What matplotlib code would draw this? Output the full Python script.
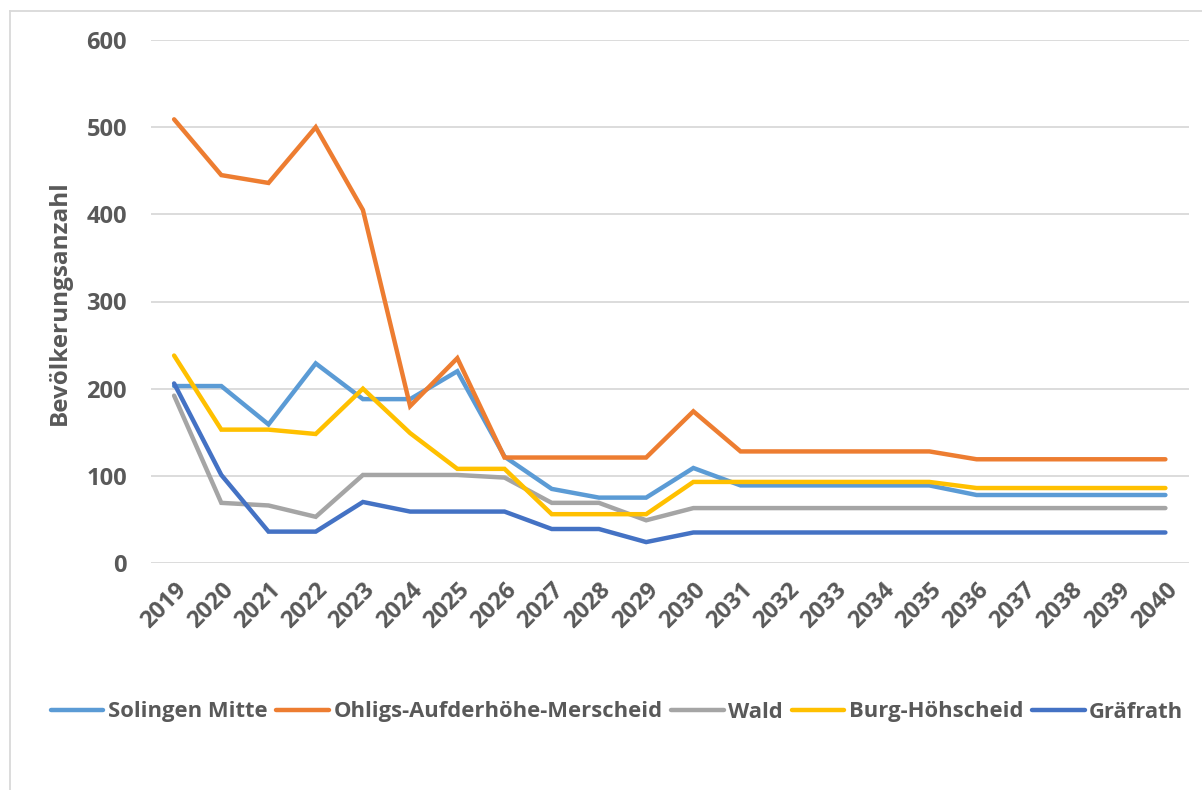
import matplotlib.pyplot as plt
from matplotlib.lines import Line2D

plt.rcParams['font.family'] = ['Open Sans', 'DejaVu Sans']

years = [str(y) for y in range(2019, 2041)]

solingen_mitte = [203, 203, 159, 229, 188, 188, 220, 122, 85, 75, 75, 109,
                  89, 89, 89, 89, 89, 78, 78, 78, 78, 78]
ohligs = [509, 445, 436, 500, 405, 180, 235, 121, 121, 121, 121, 174,
          128, 128, 128, 128, 128, 119, 119, 119, 119, 119]
wald = [192, 69, 66, 53, 101, 101, 101, 98, 69, 69, 49, 63,
        63, 63, 63, 63, 63, 63, 63, 63, 63, 63]
burg = [238, 153, 153, 148, 200, 149, 108, 108, 56, 56, 56, 93,
        93, 93, 93, 93, 93, 86, 86, 86, 86, 86]
graefrath = [206, 101, 36, 36, 70, 59, 59, 59, 39, 39, 24, 35,
             35, 35, 35, 35, 35, 35, 35, 35, 35, 35]

series = [
    ('Solingen Mitte', solingen_mitte, '#5B9BD5'),
    ('Ohligs-Aufderhöhe-Merscheid', ohligs, '#ED7D31'),
    ('Wald', wald, '#A5A5A5'),
    ('Burg-Höhscheid', burg, '#FFC000'),
    ('Gräfrath', graefrath, '#4472C4'),
]

W, H = 1202, 790
fig = plt.figure(figsize=(W / 100, H / 100), dpi=100)
ax = fig.add_axes([150.5 / W, 1 - 563 / H, (1189 - 150.5) / W, (563 - 40) / H])

x = range(len(years))
for name, vals, col in series:
    ax.plot(x, vals, color=col, lw=3.2, label=name, solid_capstyle='round',
            solid_joinstyle='miter')

txt = '#595959'
ax.set_xlim(-0.5, len(years) - 0.5)
ax.set_ylim(0, 600)
ax.set_yticks(range(0, 601, 100))
ax.grid(axis='y', color='#D9D9D9', lw=1.3)
ax.set_axisbelow(True)
for s in ax.spines.values():
    s.set_visible(False)
ax.tick_params(length=0, colors=txt, labelsize=17)
ax.tick_params(axis='y', pad=17)
ax.set_xticks(list(x))
ax.set_xticklabels(years, rotation=45, ha='right', rotation_mode='anchor')
ax.tick_params(axis='x', pad=11)
for lab in ax.get_xticklabels() + ax.get_yticklabels():
    lab.set_fontweight('bold')

fig.text(60 / W, 1 - 303 / H, 'Bevölkerungsanzahl', rotation=90, ha='center',
         va='center', fontsize=17.5, fontweight='bold', color=txt)

leg = fig.legend(loc='center', bbox_to_anchor=(617 / W, 1 - 712 / H), ncol=5,
                 frameon=False, handlelength=2.4, handletextpad=0.2,
                 columnspacing=0.4, prop={'size': 15.8, 'weight': 'bold'})
for t in leg.get_texts():
    t.set_color(txt)

# chart border (only left and top visible)
fig.add_artist(Line2D([9.5 / W, 9.5 / W], [0, 1 - 11 / H], color='#D9D9D9', lw=1.3))
fig.add_artist(Line2D([9.5 / W, 1], [1 - 11 / H, 1 - 11 / H], color='#D9D9D9', lw=1.3))

fig.savefig('out.png', dpi=100, facecolor='white')
